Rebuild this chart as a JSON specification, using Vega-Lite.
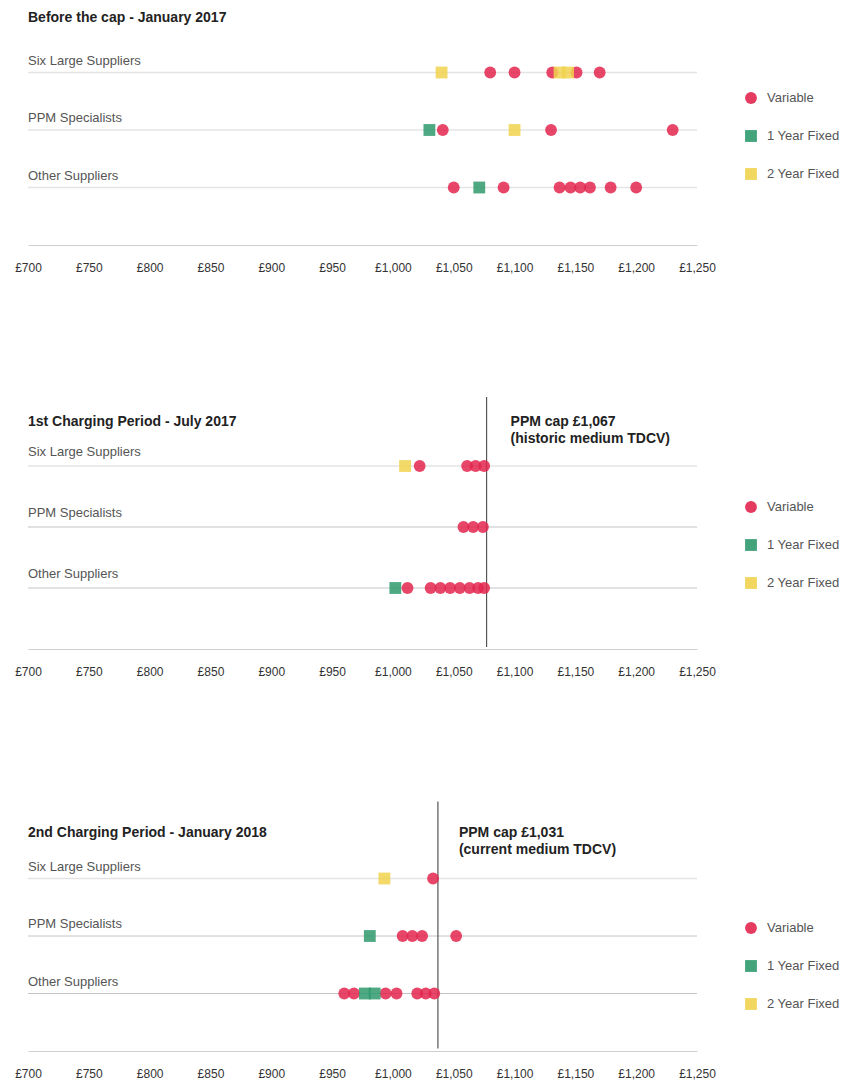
{
  "$schema": "https://vega.github.io/schema/vega-lite/v6.json",
  "padding": {"left": 14, "top": 10, "right": 5, "bottom": 5},
  "spacing": 123,
  "config": {
    "view": {"stroke": null},
    "font": "Liberation Sans",
    "axisX": {"grid": false, "ticks": false, "tickSize": 0, "labelPadding": 17, "domainColor": "#cfcfcf", "labelFontSize": 12, "labelColor": "#333", "labelFlush": false, "labelOverlap": false, "labelExpr": "'£' + format(datum.value, ',')"},
    "legend": {"orient": "none", "title": null, "symbolSize": 140, "rowPadding": 20, "labelFontSize": 13, "labelColor": "#555", "labelOffset": 9, "symbolOpacity": 0.9}
  },
  "datasets": {
    "rows": [
      {"supplier": "Six Large Suppliers"},
      {"supplier": "PPM Specialists"},
      {"supplier": "Other Suppliers"}
    ],
    "p1": [
      {"supplier": "Six Large Suppliers", "price": 1040, "tariff": "2 Year Fixed"},
      {"supplier": "Six Large Suppliers", "price": 1080, "tariff": "Variable"},
      {"supplier": "Six Large Suppliers", "price": 1100, "tariff": "Variable"},
      {"supplier": "Six Large Suppliers", "price": 1131, "tariff": "Variable"},
      {"supplier": "Six Large Suppliers", "price": 1151, "tariff": "Variable"},
      {"supplier": "Six Large Suppliers", "price": 1170, "tariff": "Variable"},
      {"supplier": "Six Large Suppliers", "price": 1137, "tariff": "2 Year Fixed"},
      {"supplier": "Six Large Suppliers", "price": 1144, "tariff": "2 Year Fixed"},
      {"supplier": "PPM Specialists", "price": 1030, "tariff": "1 Year Fixed"},
      {"supplier": "PPM Specialists", "price": 1041, "tariff": "Variable"},
      {"supplier": "PPM Specialists", "price": 1100, "tariff": "2 Year Fixed"},
      {"supplier": "PPM Specialists", "price": 1130, "tariff": "Variable"},
      {"supplier": "PPM Specialists", "price": 1230, "tariff": "Variable"},
      {"supplier": "Other Suppliers", "price": 1050, "tariff": "Variable"},
      {"supplier": "Other Suppliers", "price": 1071, "tariff": "1 Year Fixed"},
      {"supplier": "Other Suppliers", "price": 1091, "tariff": "Variable"},
      {"supplier": "Other Suppliers", "price": 1137, "tariff": "Variable"},
      {"supplier": "Other Suppliers", "price": 1146, "tariff": "Variable"},
      {"supplier": "Other Suppliers", "price": 1154, "tariff": "Variable"},
      {"supplier": "Other Suppliers", "price": 1162, "tariff": "Variable"},
      {"supplier": "Other Suppliers", "price": 1179, "tariff": "Variable"},
      {"supplier": "Other Suppliers", "price": 1200, "tariff": "Variable"}
    ],
    "p2": [
      {"supplier": "Six Large Suppliers", "price": 1010, "tariff": "2 Year Fixed"},
      {"supplier": "Six Large Suppliers", "price": 1022, "tariff": "Variable"},
      {"supplier": "Six Large Suppliers", "price": 1061, "tariff": "Variable"},
      {"supplier": "Six Large Suppliers", "price": 1068, "tariff": "Variable"},
      {"supplier": "Six Large Suppliers", "price": 1075, "tariff": "Variable"},
      {"supplier": "PPM Specialists", "price": 1058, "tariff": "Variable"},
      {"supplier": "PPM Specialists", "price": 1066, "tariff": "Variable"},
      {"supplier": "PPM Specialists", "price": 1074, "tariff": "Variable"},
      {"supplier": "Other Suppliers", "price": 1002, "tariff": "1 Year Fixed"},
      {"supplier": "Other Suppliers", "price": 1012, "tariff": "Variable"},
      {"supplier": "Other Suppliers", "price": 1031, "tariff": "Variable"},
      {"supplier": "Other Suppliers", "price": 1039, "tariff": "Variable"},
      {"supplier": "Other Suppliers", "price": 1047, "tariff": "Variable"},
      {"supplier": "Other Suppliers", "price": 1055, "tariff": "Variable"},
      {"supplier": "Other Suppliers", "price": 1063, "tariff": "Variable"},
      {"supplier": "Other Suppliers", "price": 1070, "tariff": "Variable"},
      {"supplier": "Other Suppliers", "price": 1075, "tariff": "Variable"}
    ],
    "p3": [
      {"supplier": "Six Large Suppliers", "price": 993, "tariff": "2 Year Fixed"},
      {"supplier": "Six Large Suppliers", "price": 1033, "tariff": "Variable"},
      {"supplier": "PPM Specialists", "price": 981, "tariff": "1 Year Fixed"},
      {"supplier": "PPM Specialists", "price": 1008, "tariff": "Variable"},
      {"supplier": "PPM Specialists", "price": 1016, "tariff": "Variable"},
      {"supplier": "PPM Specialists", "price": 1024, "tariff": "Variable"},
      {"supplier": "PPM Specialists", "price": 1052, "tariff": "Variable"},
      {"supplier": "Other Suppliers", "price": 960, "tariff": "Variable"},
      {"supplier": "Other Suppliers", "price": 968, "tariff": "Variable"},
      {"supplier": "Other Suppliers", "price": 994, "tariff": "Variable"},
      {"supplier": "Other Suppliers", "price": 1003, "tariff": "Variable"},
      {"supplier": "Other Suppliers", "price": 1020, "tariff": "Variable"},
      {"supplier": "Other Suppliers", "price": 1027, "tariff": "Variable"},
      {"supplier": "Other Suppliers", "price": 1034, "tariff": "Variable"},
      {"supplier": "Other Suppliers", "price": 977, "tariff": "1 Year Fixed"},
      {"supplier": "Other Suppliers", "price": 985, "tariff": "1 Year Fixed"}
    ]
  },
  "resolve": {
    "scale": {"x": "independent", "y": "independent", "color": "independent", "shape": "independent"},
    "legend": {"color": "independent", "shape": "independent"}
  },
  "vconcat": [
    {
      "width": 669,
      "height": 230,
      "layer": [
        {
          "data": {"name": "rows"},
          "mark": {"type": "rule", "color": "#e4e4e4", "strokeWidth": 1.5},
          "encoding": {
            "y": {"field": "supplier", "type": "nominal", "axis": null,
              "scale": {"type": "point", "domain": ["Six Large Suppliers", "PPM Specialists", "Other Suppliers"], "padding": 1}}
          }
        },
        {
          "data": {"name": "rows"},
          "mark": {"type": "text", "align": "left", "baseline": "middle", "dy": -12, "fontSize": 13, "color": "#555"},
          "encoding": {
            "x": {"datum": 700, "type": "quantitative", "axis": {"values": [700, 750, 800, 850, 900, 950, 1000, 1050, 1100, 1150, 1200, 1250], "title": null}},
            "y": {"field": "supplier", "type": "nominal"},
            "text": {"field": "supplier"}
          }
        },
        {
          "data": {"values": [{}]},
          "mark": {"type": "text", "align": "left", "baseline": "middle", "dy": -55, "fontSize": 14, "fontWeight": "bold", "color": "#222", "text": "Before the cap - January 2017"},
          "encoding": {
            "x": {"datum": 700, "type": "quantitative", "axis": {"values": [700, 750, 800, 850, 900, 950, 1000, 1050, 1100, 1150, 1200, 1250], "title": null}},
            "y": {"datum": "Six Large Suppliers"}
          }
        },
        {
          "data": {"name": "p1"},
          "mark": {"type": "point", "filled": true, "size": 140, "opacity": 0.85},
          "encoding": {
            "x": {"field": "price", "type": "quantitative",
              "scale": {"domain": [700, 1250], "nice": false, "zero": false},
              "axis": {"values": [700, 750, 800, 850, 900, 950, 1000, 1050, 1100, 1150, 1200, 1250], "title": null}},
            "y": {"field": "supplier", "type": "nominal"},
            "color": {"field": "tariff", "type": "nominal",
              "scale": {"domain": ["Variable", "1 Year Fixed", "2 Year Fixed"], "range": ["#e3264f", "#2f9a6d", "#f0d24e"]},
              "legend": {"legendX": 716, "legendY": 76}},
            "shape": {"field": "tariff", "type": "nominal",
              "scale": {"domain": ["Variable", "1 Year Fixed", "2 Year Fixed"], "range": ["circle", "square", "square"]},
              "legend": {"legendX": 716, "legendY": 76}}
          }
        }
      ]
    },
    {
      "width": 669,
      "height": 244,
      "layer": [
        {
          "data": {"name": "rows"},
          "transform": [{"filter": "datum.supplier == 'Six Large Suppliers'"}],
          "mark": {"type": "rule", "color": "#e4e4e4", "strokeWidth": 1.5},
          "encoding": {
            "y": {"field": "supplier", "type": "nominal", "axis": null,
              "scale": {"type": "point", "domain": ["Six Large Suppliers", "PPM Specialists", "Other Suppliers"], "padding": 1}}
          }
        },
        {
          "data": {"name": "rows"},
          "transform": [{"filter": "datum.supplier != 'Six Large Suppliers'"}],
          "mark": {"type": "rule", "color": "#c4c4c4", "strokeWidth": 1},
          "encoding": {
            "y": {"field": "supplier", "type": "nominal"}
          }
        },
        {
          "data": {"name": "rows"},
          "mark": {"type": "text", "align": "left", "baseline": "middle", "dy": -14, "fontSize": 13, "color": "#555"},
          "encoding": {
            "x": {"datum": 700, "type": "quantitative", "axis": {"values": [700, 750, 800, 850, 900, 950, 1000, 1050, 1100, 1150, 1200, 1250], "title": null}},
            "y": {"field": "supplier", "type": "nominal"},
            "text": {"field": "supplier"}
          }
        },
        {
          "data": {"values": [{}]},
          "mark": {"type": "text", "align": "left", "baseline": "middle", "dy": -44, "fontSize": 14, "fontWeight": "bold", "color": "#222", "text": "1st Charging Period - July 2017"},
          "encoding": {
            "x": {"datum": 700, "type": "quantitative", "axis": {"values": [700, 750, 800, 850, 900, 950, 1000, 1050, 1100, 1150, 1200, 1250], "title": null}},
            "y": {"datum": "Six Large Suppliers"}
          }
        },
        {
          "data": {"values": [{"cap": 1077, "note": ["PPM cap £1,067", "(historic medium TDCV)"]}]},
          "mark": {"type": "rule", "color": "#555", "strokeWidth": 1.2, "yOffset": -69, "y2Offset": 59},
          "encoding": {
            "x": {"field": "cap", "type": "quantitative", "axis": {"values": [700, 750, 800, 850, 900, 950, 1000, 1050, 1100, 1150, 1200, 1250], "title": null}},
            "y": {"datum": "Six Large Suppliers"},
            "y2": {"datum": "Other Suppliers"}
          }
        },
        {
          "data": {"values": [{"cap": 1077, "note": ["PPM cap £1,067", "(historic medium TDCV)"]}]},
          "mark": {"type": "text", "align": "left", "baseline": "top", "dx": 24, "dy": -51, "fontSize": 14, "fontWeight": "bold", "color": "#222", "lineHeight": 17},
          "encoding": {
            "x": {"field": "cap", "type": "quantitative", "axis": {"values": [700, 750, 800, 850, 900, 950, 1000, 1050, 1100, 1150, 1200, 1250], "title": null}},
            "y": {"datum": "Six Large Suppliers"},
            "text": {"field": "note"}
          }
        },
        {
          "data": {"name": "p2"},
          "mark": {"type": "point", "filled": true, "size": 140, "opacity": 0.85},
          "encoding": {
            "x": {"field": "price", "type": "quantitative",
              "scale": {"domain": [700, 1250], "nice": false, "zero": false},
              "axis": {"values": [700, 750, 800, 850, 900, 950, 1000, 1050, 1100, 1150, 1200, 1250], "title": null}},
            "y": {"field": "supplier", "type": "nominal"},
            "color": {"field": "tariff", "type": "nominal",
              "scale": {"domain": ["Variable", "1 Year Fixed", "2 Year Fixed"], "range": ["#e3264f", "#2f9a6d", "#f0d24e"]},
              "legend": {"legendX": 716, "legendY": 95}},
            "shape": {"field": "tariff", "type": "nominal",
              "scale": {"domain": ["Variable", "1 Year Fixed", "2 Year Fixed"], "range": ["circle", "square", "square"]},
              "legend": {"legendX": 716, "legendY": 95}}
          }
        }
      ]
    },
    {
      "width": 669,
      "height": 230,
      "layer": [
        {
          "data": {"name": "rows"},
          "transform": [{"filter": "datum.supplier == 'Six Large Suppliers'"}],
          "mark": {"type": "rule", "color": "#e4e4e4", "strokeWidth": 1.5},
          "encoding": {
            "y": {"field": "supplier", "type": "nominal", "axis": null,
              "scale": {"type": "point", "domain": ["Six Large Suppliers", "PPM Specialists", "Other Suppliers"], "padding": 1}}
          }
        },
        {
          "data": {"name": "rows"},
          "transform": [{"filter": "datum.supplier != 'Six Large Suppliers'"}],
          "mark": {"type": "rule", "color": "#c4c4c4", "strokeWidth": 1},
          "encoding": {
            "y": {"field": "supplier", "type": "nominal"}
          }
        },
        {
          "data": {"name": "rows"},
          "mark": {"type": "text", "align": "left", "baseline": "middle", "dy": -12, "fontSize": 13, "color": "#555"},
          "encoding": {
            "x": {"datum": 700, "type": "quantitative", "axis": {"values": [700, 750, 800, 850, 900, 950, 1000, 1050, 1100, 1150, 1200, 1250], "title": null}},
            "y": {"field": "supplier", "type": "nominal"},
            "text": {"field": "supplier"}
          }
        },
        {
          "data": {"values": [{}]},
          "mark": {"type": "text", "align": "left", "baseline": "middle", "dy": -46, "fontSize": 14, "fontWeight": "bold", "color": "#222", "text": "2nd Charging Period - January 2018"},
          "encoding": {
            "x": {"datum": 700, "type": "quantitative", "axis": {"values": [700, 750, 800, 850, 900, 950, 1000, 1050, 1100, 1150, 1200, 1250], "title": null}},
            "y": {"datum": "Six Large Suppliers"}
          }
        },
        {
          "data": {"values": [{"cap": 1037, "note": ["PPM cap £1,031", "(current medium TDCV)"]}]},
          "mark": {"type": "rule", "color": "#555", "strokeWidth": 1.2, "yOffset": -77, "y2Offset": 55},
          "encoding": {
            "x": {"field": "cap", "type": "quantitative", "axis": {"values": [700, 750, 800, 850, 900, 950, 1000, 1050, 1100, 1150, 1200, 1250], "title": null}},
            "y": {"datum": "Six Large Suppliers"},
            "y2": {"datum": "Other Suppliers"}
          }
        },
        {
          "data": {"values": [{"cap": 1037, "note": ["PPM cap £1,031", "(current medium TDCV)"]}]},
          "mark": {"type": "text", "align": "left", "baseline": "top", "dx": 21, "dy": -53, "fontSize": 14, "fontWeight": "bold", "color": "#222", "lineHeight": 17},
          "encoding": {
            "x": {"field": "cap", "type": "quantitative", "axis": {"values": [700, 750, 800, 850, 900, 950, 1000, 1050, 1100, 1150, 1200, 1250], "title": null}},
            "y": {"datum": "Six Large Suppliers"},
            "text": {"field": "note"}
          }
        },
        {
          "data": {"name": "p3"},
          "mark": {"type": "point", "filled": true, "size": 140, "opacity": 0.85},
          "encoding": {
            "x": {"field": "price", "type": "quantitative",
              "scale": {"domain": [700, 1250], "nice": false, "zero": false},
              "axis": {"values": [700, 750, 800, 850, 900, 950, 1000, 1050, 1100, 1150, 1200, 1250], "title": null}},
            "y": {"field": "supplier", "type": "nominal"},
            "color": {"field": "tariff", "type": "nominal",
              "scale": {"domain": ["Variable", "1 Year Fixed", "2 Year Fixed"], "range": ["#e3264f", "#2f9a6d", "#f0d24e"]},
              "legend": {"legendX": 716, "legendY": 100}},
            "shape": {"field": "tariff", "type": "nominal",
              "scale": {"domain": ["Variable", "1 Year Fixed", "2 Year Fixed"], "range": ["circle", "square", "square"]},
              "legend": {"legendX": 716, "legendY": 100}}
          }
        }
      ]
    }
  ]
}
